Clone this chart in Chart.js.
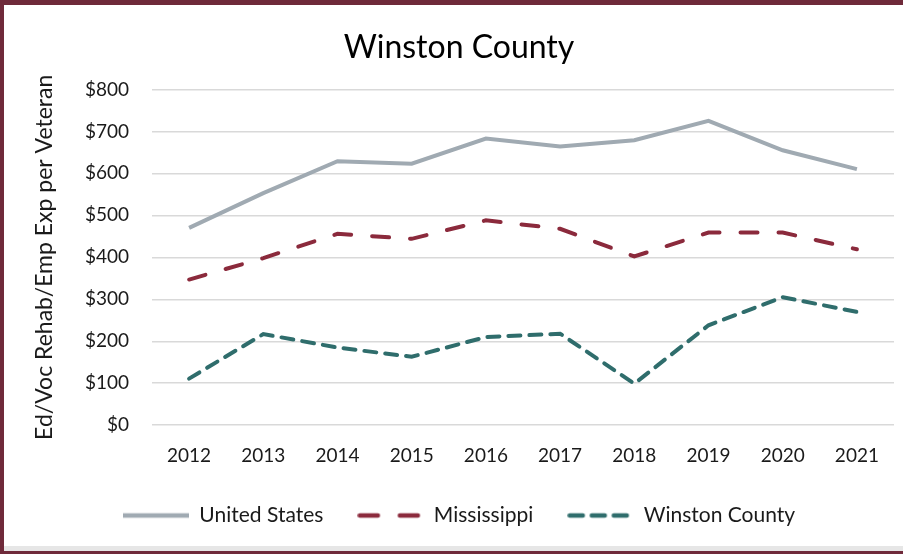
<!DOCTYPE html>
<html>
<head>
<meta charset="utf-8">
<script src="https://cdn.jsdelivr.net/npm/chart.js@4/dist/chart.umd.min.js"></script>
<style>
  html, body { margin: 0; padding: 0; background: #fff; }
  #wrap { position: relative; width: 903px; height: 554px; overflow: hidden; }
  #chart { position: absolute; left: 0; top: 0; }
  /* moldura bordô em volta do gráfico */
  #frame {
    position: absolute; left: 0; top: 0; width: 903px; height: 554px;
    box-sizing: border-box; pointer-events: none;
    border-top: 5px solid #6f2a3a;
    border-left: 4px solid #6f2a3a;
    border-bottom: 3px solid #6f2a3a;
  }
  #shade { position: absolute; left: 4px; right: 0; top: 546px; height: 5px; background: #e6e6e6; }
</style>
</head>
<body>
<div id="wrap">
  <canvas id="chart" width="903" height="554"></canvas>
  <div id="shade"></div>
  <div id="frame"></div>
</div>
<script>
// dados
const years = ['2012', '2013', '2014', '2015', '2016', '2017', '2018', '2019', '2020', '2021'];
const unitedStates = [470, 553, 629, 623, 683, 664, 679, 725, 655, 610];
const mississippi = [347, 398, 456, 444, 488, 468, 402, 459, 459, 419];
const winstonCounty = [111, 217, 185, 163, 210, 218, 99, 238, 305, 270];
const yTicks = [0, 100, 200, 300, 400, 500, 600, 700, 800];

const FONT = 'Lato';
const TEXT = '#1a1a1a';

// amostra de linha (com tracejado) para a legenda
const legendSample = (color, dash) => {
    const c = document.createElement('canvas');
    c.width = 66;
    c.height = 8;
    const g = c.getContext('2d');
    g.strokeStyle = color;
    g.lineWidth = 4.5;
    g.lineCap = dash.length ? 'round' : 'butt';
    g.setLineDash(dash);
    g.beginPath();
    g.moveTo(dash.length ? 2.5 : 0, 4);
    g.lineTo(66, 4);
    g.stroke();
    return c;
};

const ctx = document.getElementById('chart').getContext('2d');
new Chart(ctx, {
    type: 'line',
    data: {
        labels: years,
        datasets: [
            {
                label: 'United States',
                data: unitedStates,
                borderColor: '#a0aab2',
                borderWidth: 4,
                pointRadius: 0,
                pointStyle: legendSample('#a0aab2', []),
                tension: 0
            },
            {
                label: 'Mississippi',
                data: mississippi,
                borderColor: '#8b2a3c',
                borderWidth: 4,
                borderDash: [17, 21],
                borderCapStyle: 'round',
                pointRadius: 0,
                pointStyle: legendSample('#8b2a3c', [18, 22]),
                tension: 0
            },
            {
                label: 'Winston County',
                data: winstonCounty,
                borderColor: '#2f6d6c',
                borderWidth: 4,
                borderDash: [12, 9],
                borderCapStyle: 'round',
                pointRadius: 0,
                pointStyle: legendSample('#2f6d6c', [13, 9]),
                tension: 0
            }
        ]
    },
    options: {
        responsive: false,
        animation: false,
        layout: { padding: { left: 24, right: 9, top: 0, bottom: 18 } },
        plugins: {
            title: {
                display: true,
                text: 'Winston County',
                color: '#000',
                font: { family: FONT, size: 32, weight: 'normal' },
                padding: { top: 28, bottom: 23 }
            },
            legend: {
                position: 'bottom',
                labels: {
                    usePointStyle: true,
                    pointStyleWidth: 66,
                    boxHeight: 18,
                    padding: 34,
                    color: TEXT,
                    font: { family: FONT, size: 21 }
                }
            },
            tooltip: { enabled: false }
        },
        scales: {
            x: {
                offset: true,
                afterFit: (axis) => { axis.height -= 15; },
                grid: { display: false, drawTicks: false, offset: true },
                border: { display: false },
                ticks: {
                    color: TEXT,
                    font: { family: FONT, size: 19 },
                    padding: 19,
                    maxRotation: 0
                }
            },
            y: {
                min: 0,
                max: 800,
                afterBuildTicks: (axis) => { axis.ticks = yTicks.map(v => ({ value: v })); },
                afterFit: (axis) => { axis.width = 128; },
                grid: { color: '#d9d9d9', lineWidth: 1.5, drawTicks: false },
                border: { display: false },
                ticks: {
                    color: TEXT,
                    font: { family: FONT, size: 19 },
                    padding: 23,
                    callback: (v) => '$' + v
                },
                title: {
                    display: true,
                    text: 'Ed/Voc Rehab/Emp Exp per Veteran',
                    color: TEXT,
                    font: { family: FONT, size: 23 },
                    padding: { top: 7, bottom: 0 }
                }
            }
        }
    }
});
</script>
</body>
</html>
